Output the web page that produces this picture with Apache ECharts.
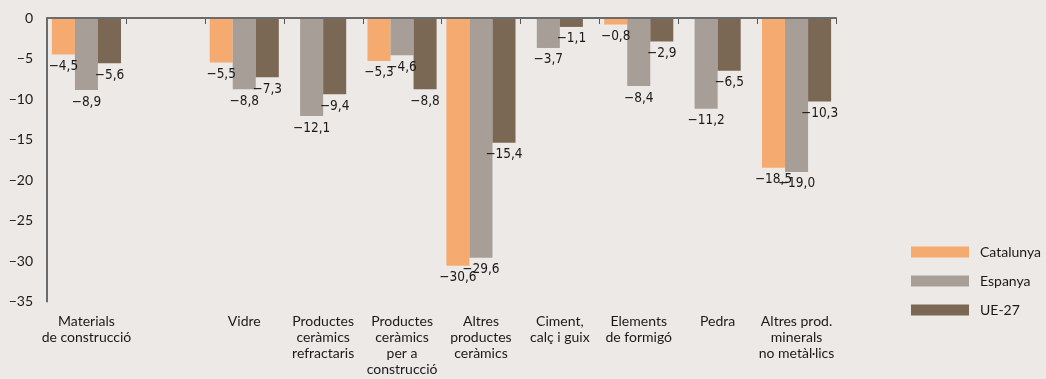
<!DOCTYPE html>
<html>
<head>
<meta charset="utf-8">
<script src="https://cdn.jsdelivr.net/npm/echarts@6/dist/echarts.min.js"></script>
<style>
  html, body { margin: 0; padding: 0; background: #ece9e6; }
  #chart { width: 1046px; height: 379px; }
</style>
</head>
<body>
<div id="chart"></div>
<script>
const categories = [
  'Materials\nde construcció',
  '',
  'Vidre',
  'Productes\nceràmics\nrefractaris',
  'Productes\nceràmics\nper a\nconstrucció',
  'Altres\nproductes\nceràmics',
  'Ciment,\ncalç i guix',
  'Elements\nde formigó',
  'Pedra',
  'Altres prod.\nminerals\nno metàl·lics'
];
const seriesNames = ['Catalunya', 'Espanya', 'UE-27'];
const catalunya = [-4.5, null, -5.5, null, -5.3, -30.6, null, -0.8, null, -18.5];
const espanya   = [-8.9, null, -8.8, -12.1, -4.6, -29.6, -3.7, -8.4, -11.2, -19.0];
const ue27      = [-5.6, null, -7.3, -9.4, -8.8, -15.4, -1.1, -2.9, -6.5, -10.3];
const yTicks = [0, -5, -10, -15, -20, -25, -30, -35];

const allSeries = [catalunya, espanya, ue27];
const colors = ['#f5aa6f', '#a79e98', '#7a6855'];
const labelFont = "'Liberation Sans Narrow','DejaVu Sans Condensed',sans-serif";

function fmt(v) {
  return '\u2212' + Math.abs(v).toFixed(1).replace('.', ',');
}

function makeRender(sIdx) {
  return function (params, api) {
    const ci = api.value(0);
    const val = api.value(1);
    const present = [];
    allSeries.forEach((arr, i) => { if (arr[ci] !== null && arr[ci] !== undefined) present.push(i); });
    const n = present.length;
    const k = present.indexOf(sIdx);
    const band = api.size([1, 0])[0];
    const barW = band * 0.292;
    const base = api.coord([ci, 0]);
    const end = api.coord([ci, val]);
    const x0 = base[0] + (k - n / 2) * barW;
    return {
      type: 'group',
      children: [
        {
          type: 'rect',
          shape: { x: x0, y: base[1], width: barW, height: end[1] - base[1] },
          style: { fill: api.visual('color') }
        },
        {
          type: 'text',
          z2: 100,
          style: {
            text: fmt(val),
            x: x0 + barW / 2,
            y: end[1] + 5,
            align: 'center',
            verticalAlign: 'top',
            fill: '#1a1a1a',
            fontSize: 13.5,
            fontFamily: labelFont
          }
        }
      ]
    };
  };
}

// category-boundary ticks under the zero line, placed through the axis scale
function renderTick(params, api) {
  const ci = api.value(0);
  const band = api.size([1, 0])[0];
  const p = api.coord([ci, 0]);
  const x = Math.round(p[0] + band / 2) + 0.5;
  return {
    type: 'line',
    z2: 50,
    shape: { x1: x, y1: p[1], x2: x, y2: p[1] + 6 },
    style: { stroke: '#555555', lineWidth: 1 }
  };
}

const chart = echarts.init(document.getElementById('chart'), null, { renderer: 'canvas' });

const series = seriesNames.map((name, i) => ({
  name: name,
  type: 'custom',
  xAxisIndex: 0,
  yAxisIndex: 0,
  z: 2,
  itemStyle: { color: colors[i] },
  encode: { x: 0, y: 1 },
  renderItem: makeRender(i),
  data: allSeries[i]
    .map((v, ci) => (v === null ? null : [ci, v]))
    .filter(d => d !== null)
}));
series.push({
  name: 'ticks',
  type: 'custom',
  xAxisIndex: 0,
  yAxisIndex: 0,
  z: 3,
  silent: true,
  encode: { x: 0, y: 1 },
  renderItem: renderTick,
  data: categories.map((c, i) => [i, 0])
});

chart.setOption({
  backgroundColor: '#ece9e6',
  animation: false,
  grid: { left: 47, top: 18, right: 210, bottom: 77.5, containLabel: false },
  legend: {
    orient: 'vertical',
    left: 906,
    top: 240,
    itemWidth: 58,
    itemHeight: 11,
    itemGap: 15,
    icon: 'rect',
    data: seriesNames.map((n, i) => ({ name: n, itemStyle: { color: colors[i] } })),
    textStyle: { fontSize: 14, color: '#1a1a1a', fontFamily: 'Lato, sans-serif', padding: [0, 0, 0, 6] }
  },
  xAxis: [
    {
      type: 'category',
      data: categories,
      position: 'top',
      axisLine: { show: true, onZero: false, lineStyle: { color: '#6b6b6b', width: 2 } },
      axisTick: { show: false },
      axisLabel: { show: false },
      splitLine: { show: false },
      z: 10
    },
    {
      type: 'category',
      data: categories,
      position: 'bottom',
      axisLine: { show: false, onZero: false },
      axisTick: { show: false },
      axisLabel: {
        show: true,
        interval: 0,
        margin: 12,
        fontSize: 14,
        lineHeight: 16,
        color: '#1a1a1a',
        fontFamily: 'Lato, sans-serif',
        align: 'center'
      },
      splitLine: { show: false }
    }
  ],
  yAxis: {
    type: 'value',
    min: -35,
    max: 0,
    interval: 5,
    axisLine: { show: true, onZero: false, lineStyle: { color: '#6b6b6b', width: 2 } },
    axisTick: { show: false },
    splitLine: { show: false },
    axisLabel: {
      margin: 14,
      fontSize: 14,
      color: '#1a1a1a',
      fontFamily: 'Lato, sans-serif',
      formatter: v => (yTicks.indexOf(v) >= 0 ? (v === 0 ? '0' : '\u2212' + Math.abs(v)) : '')
    }
  },
  series: series
});
</script>
</body>
</html>
